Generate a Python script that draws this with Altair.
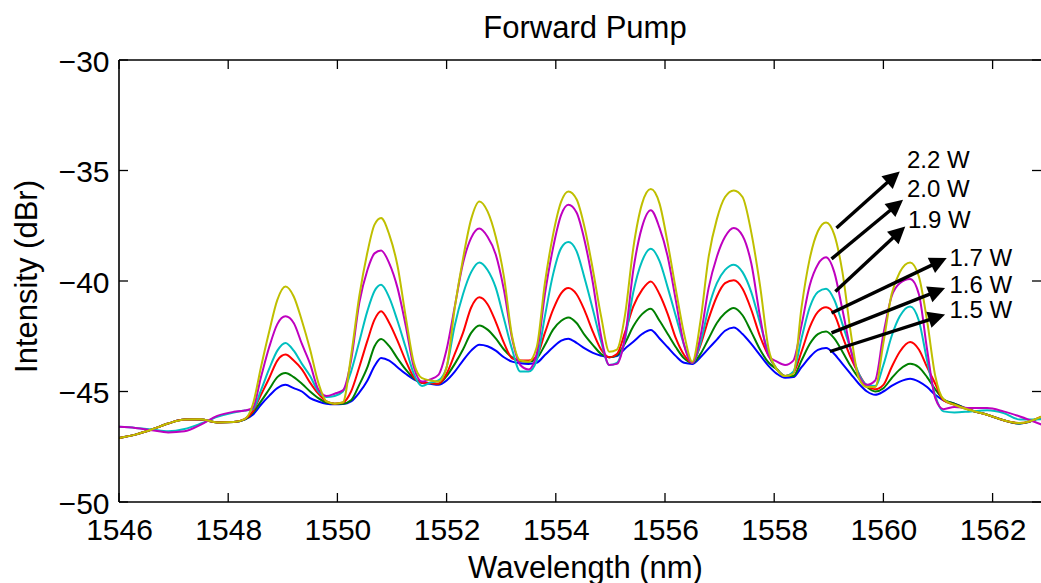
import math
import altair as alt
import pandas as pd

# ---------------- data ----------------
WAVELENGTH = [
    1546.0, 1546.3, 1546.6, 1546.9, 1547.2, 1547.5, 1547.8, 1548.1, 1548.3, 1548.45,
    1548.6, 1548.75, 1548.9, 1549.05, 1549.2, 1549.35, 1549.5, 1549.65, 1549.8, 1549.95,
    1550.1, 1550.25, 1550.4, 1550.55, 1550.68, 1550.8, 1550.95, 1551.1, 1551.25, 1551.4,
    1551.55, 1551.7, 1551.85, 1552.0, 1552.15, 1552.3, 1552.45, 1552.6, 1552.75, 1552.9,
    1553.05, 1553.2, 1553.35, 1553.5, 1553.65, 1553.8, 1553.95, 1554.1, 1554.23, 1554.38,
    1554.53, 1554.68, 1554.83, 1554.98, 1555.12, 1555.27, 1555.42, 1555.58, 1555.74, 1555.9,
    1556.05, 1556.2, 1556.35, 1556.5, 1556.65, 1556.8, 1556.95, 1557.1, 1557.26, 1557.42,
    1557.58, 1557.74, 1557.9, 1558.05, 1558.2, 1558.35, 1558.5, 1558.65, 1558.8, 1558.95,
    1559.1, 1559.25, 1559.4, 1559.55, 1559.7, 1559.85, 1560.0, 1560.15, 1560.3, 1560.49,
    1560.65, 1560.8, 1560.95, 1561.1, 1561.3, 1561.6, 1561.9, 1562.2, 1562.5, 1562.9,
]

P_1_5W = [
    -47.1, -46.95, -46.72, -46.45, -46.27, -46.27, -46.4, -46.38, -46.27, -46.05,
    -45.6, -45.2, -44.85, -44.7, -44.85, -45.0, -45.3, -45.45, -45.55, -45.58,
    -45.57, -45.45, -45.05, -44.5, -43.85, -43.48, -43.6, -43.9, -44.2, -44.45,
    -44.6, -44.65, -44.7, -44.5, -44.1, -43.6, -43.15, -42.88, -42.95, -43.15,
    -43.45, -43.65, -43.72, -43.75, -43.7, -43.35, -43.0, -42.7, -42.61, -42.8,
    -43.05, -43.25, -43.38, -43.45, -43.4, -43.05, -42.75, -42.4, -42.22, -42.6,
    -43.0, -43.4, -43.7, -43.75, -43.45, -43.05, -42.65, -42.25, -42.1, -42.4,
    -42.85, -43.35, -43.85, -44.2, -44.38, -44.35, -43.9, -43.45, -43.12, -43.03,
    -43.3, -43.75, -44.2, -44.65, -45.0, -45.15, -45.0, -44.75, -44.55, -44.42,
    -44.55, -44.8, -45.15, -45.4, -45.55, -45.85, -46.05, -46.3, -46.45, -46.15,
]

P_1_6W = [
    -47.1, -46.95, -46.72, -46.45, -46.27, -46.27, -46.4, -46.38, -46.27, -45.95,
    -45.45, -44.9, -44.35, -44.16, -44.35, -44.65, -45.0, -45.3, -45.5, -45.55,
    -45.55, -45.4, -44.7, -43.9, -42.95, -42.62, -42.95, -43.5, -44.0, -44.4,
    -44.6, -44.62, -44.65, -44.3, -43.75, -43.1, -42.35, -42.01, -42.2, -42.6,
    -43.1, -43.45, -43.62, -43.65, -43.5, -42.9, -42.2, -41.8, -41.65, -41.9,
    -42.45, -42.9, -43.3, -43.45, -43.35, -42.8, -42.05, -41.5, -41.25, -41.8,
    -42.4, -43.0, -43.5, -43.7, -43.3, -42.6, -41.9, -41.45, -41.22, -41.55,
    -42.3, -43.1, -43.7, -44.0, -44.3, -44.3, -43.6, -42.85, -42.4, -42.28,
    -42.6, -43.2, -43.85, -44.4, -44.8, -45.0, -44.85, -44.4, -44.0, -43.74,
    -43.9, -44.35, -44.9, -45.35, -45.55, -45.85, -46.05, -46.3, -46.45, -46.15,
]

P_1_7W = [
    -47.1, -46.95, -46.72, -46.45, -46.27, -46.27, -46.4, -46.38, -46.25, -45.9,
    -45.15, -44.4, -43.6, -43.33, -43.6, -44.0, -44.6, -45.1, -45.45, -45.55,
    -45.5, -45.0, -43.9, -42.7, -41.75, -41.37, -41.9, -42.7, -43.6, -44.35,
    -44.6, -44.62, -44.65, -44.2, -43.3, -42.35, -41.2, -40.74, -41.05, -41.85,
    -42.8, -43.5, -43.6, -43.6, -43.4, -42.35, -41.3, -40.55, -40.32, -40.6,
    -41.35, -42.3, -43.1, -43.45, -43.3, -42.3, -41.15, -40.4, -40.02, -40.6,
    -41.5, -42.6, -43.35, -43.7, -42.9, -41.7, -40.7, -40.1, -39.97, -40.35,
    -41.3, -42.5, -43.4, -44.0, -44.3, -44.15, -43.2, -42.1, -41.4, -41.19,
    -41.5, -42.5, -43.45, -44.2, -44.75, -44.9, -44.7, -43.9, -43.2, -42.76,
    -43.1, -43.9, -44.65, -45.4, -45.6, -45.85, -46.05, -46.3, -46.43, -46.13,
]

P_1_9W = [
    -46.6, -46.65, -46.72, -46.8, -46.7, -46.45, -46.15, -45.95, -45.86, -45.8,
    -44.95, -43.98, -43.15, -42.8, -43.15, -43.75, -44.3, -45.0, -45.25, -45.2,
    -45.0, -44.1, -42.75, -41.35, -40.45, -40.17, -40.75, -41.8, -43.0, -44.2,
    -44.75, -44.6, -44.5, -43.9, -42.0, -40.6, -39.6, -39.16, -39.5, -40.3,
    -41.7, -43.1, -44.1, -44.1, -43.6, -41.6, -39.7, -38.5, -38.24, -38.65,
    -39.9, -41.3, -42.75, -43.8, -43.7, -42.6, -40.5, -39.1, -38.54, -39.1,
    -40.3, -41.6, -42.9, -43.7, -42.8, -41.2, -40.1, -39.5, -39.26, -39.6,
    -40.5, -41.9, -43.3, -44.0, -44.3, -44.1, -42.6, -41.2, -40.5, -40.35,
    -40.85, -41.95, -43.1, -44.2, -44.7, -44.75, -43.8, -42.5, -41.6, -41.15,
    -41.8, -43.6, -45.2, -45.9, -45.95, -45.9, -45.85, -45.97, -46.27, -46.25,
]

P_2_0W = [
    -46.6, -46.65, -46.75, -46.85, -46.8, -46.5, -46.1, -45.92, -45.86, -45.75,
    -44.35, -43.0, -41.95, -41.6, -41.9, -42.85, -43.75, -44.9, -45.2, -45.1,
    -44.95, -43.6, -41.0, -39.5, -38.75, -38.62, -39.2, -40.3, -42.0, -43.9,
    -44.55, -44.45, -44.25, -43.1, -41.15, -39.2, -38.05, -37.63, -38.0, -38.8,
    -40.4, -42.6, -43.8, -44.0, -43.3, -40.6, -38.5, -37.0, -36.55, -36.9,
    -38.2, -40.1, -42.5, -43.8, -43.75, -42.5, -39.5, -37.55, -36.8, -37.6,
    -38.9, -40.9, -42.9, -43.7, -42.5, -40.3, -38.9, -38.0, -37.6, -37.95,
    -39.2, -41.6, -43.4, -43.65, -43.8, -43.6, -42.0, -40.2, -39.25, -38.93,
    -39.6, -41.3, -43.1, -44.3, -44.7, -44.5, -42.4, -40.7, -40.1, -39.91,
    -40.6, -43.1, -45.3, -45.8, -45.7, -45.75, -45.75, -45.9, -46.13, -46.5,
]

P_2_2W = [
    -47.1, -46.95, -46.72, -46.45, -46.27, -46.25, -46.4, -46.38, -46.25, -45.6,
    -43.9, -42.3, -40.85, -40.25, -40.7, -41.8, -43.1, -44.6, -45.45, -45.55,
    -45.5, -43.4, -40.7, -38.7, -37.45, -37.15, -37.9, -39.3, -41.6, -43.7,
    -44.4, -44.5, -44.55, -43.9, -41.2, -39.0, -37.2, -36.4, -36.85, -38.0,
    -39.8, -42.5, -43.6, -43.65, -43.0, -40.1, -37.9, -36.4, -35.95, -36.3,
    -37.6, -39.5, -41.6, -43.2, -43.1, -41.5, -38.5, -36.5, -35.84, -36.5,
    -38.3, -40.4, -42.4, -43.65, -41.8, -38.9, -37.2, -36.2, -35.9, -36.2,
    -37.8, -40.2, -43.1, -44.0, -44.3, -44.2, -41.2, -39.0, -37.75, -37.35,
    -37.9, -39.6, -42.3, -44.4, -44.8, -44.8, -42.8, -40.6, -39.6, -39.16,
    -39.8, -41.8, -44.3, -45.35, -45.6, -45.85, -46.05, -46.3, -46.43, -46.13,
]

SERIES_NAMES = ["1.5 W", "1.6 W", "1.7 W", "1.9 W", "2.0 W", "2.2 W"]
SERIES_VALUES = [P_1_5W, P_1_6W, P_1_7W, P_1_9W, P_2_0W, P_2_2W]

X_TICKS = [1546, 1548, 1550, 1552, 1554, 1556, 1558, 1560, 1562]
Y_TICKS = [-50, -45, -40, -35, -30]

# annotations (data coordinates)
ANN_LABELS = ["2.2 W", "2.0 W", "1.9 W", "1.7 W", "1.6 W", "1.5 W"]
ANN_X0 = [1559.14, 1559.05, 1559.12, 1559.05, 1559.05, 1559.02]
ANN_Y0 = [-37.60, -39.00, -40.47, -41.45, -42.35, -43.19]
ANN_X1 = [1560.30, 1560.36, 1560.40, 1561.16, 1561.13, 1561.13]
ANN_Y1 = [-35.04, -36.32, -37.53, -38.96, -40.32, -41.52]
ANN_TX = [1560.43, 1560.43, 1560.45, 1561.21, 1561.21, 1561.21]
ANN_TY = [-34.59, -35.87, -37.30, -39.00, -40.24, -41.38]

TITLE = "Forward Pump"
X_TITLE = "Wavelength (nm)"
Y_TITLE = "Intensity (dBr)"

# ---------------- styling ----------------
FONT = "Liberation Sans"
COLORS = {"1.5 W": "#0000ff", "1.6 W": "#008000", "1.7 W": "#ff0000",
          "1.9 W": "#00bfbf", "2.0 W": "#bf00bf", "2.2 W": "#bfbf00"}
W, H = 922, 442
XMIN, XMAX = 1546.0, 1546.0 + W / 54.6
YMIN, YMAX = -50.0, -30.0
SX = W / (XMAX - XMIN)
SY = H / (YMAX - YMIN)
TICK = 9
HEAD = 17  # arrow head length in px

rows = []
for name, vals in zip(SERIES_NAMES, SERIES_VALUES):
    for x, y in zip(WAVELENGTH, vals):
        rows.append({"x": x, "y": y, "series": name})
df = pd.DataFrame(rows)

ann_rows = []
for lab, x0, y0, x1, y1, tx, ty in zip(ANN_LABELS, ANN_X0, ANN_Y0, ANN_X1, ANN_Y1, ANN_TX, ANN_TY):
    dxp = (x1 - x0) * SX
    dyp = (y1 - y0) * SY
    L = math.hypot(dxp, dyp)
    ux, uy = dxp / L, dyp / L
    ann_rows.append({
        "label": lab, "x0": x0, "y0": y0,
        "xe": x1 - ux * (HEAD - 4) / SX, "ye": y1 - uy * (HEAD - 4) / SY,
        "x1": x1, "y1": y1, "tx": tx, "ty": ty,
        "angle": math.degrees(math.atan2(dxp, dyp)) % 360,
    })
ann = pd.DataFrame(ann_rows)

x_scale = alt.Scale(domain=[XMIN, XMAX], nice=False, zero=False)
y_scale = alt.Scale(domain=[YMIN, YMAX], nice=False, zero=False)

x_axis = alt.Axis(values=X_TICKS, format="d", labelFont=FONT, labelFontSize=30, labelColor="black",
                  ticks=False, tickSize=0, domain=False, grid=False, labelPadding=13,
                  labelFlush=False, labelOverlap=False,
                  title=X_TITLE, titleFont=FONT, titleFontSize=31, titleFontWeight="normal",
                  titleColor="black", titleX=466, titleY=75, titleBaseline="alphabetic",
                  titleAlign="center")
y_axis = alt.Axis(values=Y_TICKS, format="d", labelFont=FONT, labelFontSize=30, labelColor="black",
                  ticks=False, tickSize=0, domain=False, grid=False, labelPadding=10,
                  labelOffset=2, labelFlush=False, labelOverlap=False,
                  title=Y_TITLE, titleFont=FONT, titleFontSize=31, titleFontWeight="normal",
                  titleColor="black", titleX=-83, titleY=216, titleBaseline="alphabetic",
                  titleAlign="center", titleAngle=270)


def X(f):
    return alt.X(f, type="quantitative", scale=x_scale, axis=x_axis)


def Y(f):
    return alt.Y(f, type="quantitative", scale=y_scale, axis=y_axis)


layers = []
for name in SERIES_NAMES:
    layers.append(
        alt.Chart(df).transform_filter(alt.datum.series == name)
        .mark_line(color=COLORS[name], strokeWidth=2, interpolate="monotone", clip=True)
        .encode(x=X("x"), y=Y("y"))
    )

xt = pd.DataFrame({"v": X_TICKS})
yt = pd.DataFrame({"v": Y_TICKS})
one = pd.DataFrame({"k": [0]})

tick_style = dict(color="black", strokeWidth=1.3)
layers += [
    alt.Chart(xt).mark_rule(**tick_style).encode(x=X("v"), y=alt.value(H), y2=alt.value(H - TICK)),
    alt.Chart(xt).mark_rule(**tick_style).encode(x=X("v"), y=alt.value(0), y2=alt.value(TICK)),
    alt.Chart(yt).mark_rule(**tick_style).encode(y=Y("v"), x=alt.value(0), x2=alt.value(TICK)),
    alt.Chart(yt).mark_rule(**tick_style).encode(y=Y("v"), x=alt.value(W), x2=alt.value(W - TICK)),
]

frame_style = dict(color="black", strokeWidth=1.6)
layers += [
    alt.Chart(one).mark_rule(**frame_style).encode(x=alt.value(0), x2=alt.value(W), y=alt.value(H)),
    alt.Chart(one).mark_rule(**frame_style).encode(x=alt.value(0), x2=alt.value(W), y=alt.value(0)),
    alt.Chart(one).mark_rule(**frame_style).encode(x=alt.value(0), y=alt.value(0), y2=alt.value(H)),
]

# arrows
layers += [
    alt.Chart(ann).mark_rule(color="black", strokeWidth=3.4, strokeCap="butt")
    .encode(x=X("x0"), y=Y("y0"), x2="xe", y2="ye"),
    alt.Chart(ann).mark_point(shape="M0,0L0.5,1L-0.5,1Z", filled=True, color="black",
                              opacity=1, size=(2 * HEAD) ** 2, strokeWidth=0)
    .encode(x=X("x1"), y=Y("y1"), angle=alt.Angle("angle:Q", scale=None)),
    alt.Chart(ann).mark_text(align="left", baseline="middle", font=FONT, fontSize=24, color="black")
    .encode(x=X("tx"), y=Y("ty"), text="label:N"),
]

# title
layers.append(
    alt.Chart(pd.DataFrame({"t": [TITLE]}))
    .mark_text(font=FONT, fontSize=31, align="center", baseline="alphabetic", color="black")
    .encode(text="t:N", x=alt.value(466), y=alt.value(-22))
)

chart = (
    alt.layer(*layers)
    .properties(width=W, height=H,
                padding={"left": 119, "top": 60, "right": 0, "bottom": 81},
                autosize=alt.AutoSizeParams(type="none"),
                background="white")
    .configure_view(stroke=None)
)

chart.save("out.html", embed_options={"renderer": "svg", "actions": False})
